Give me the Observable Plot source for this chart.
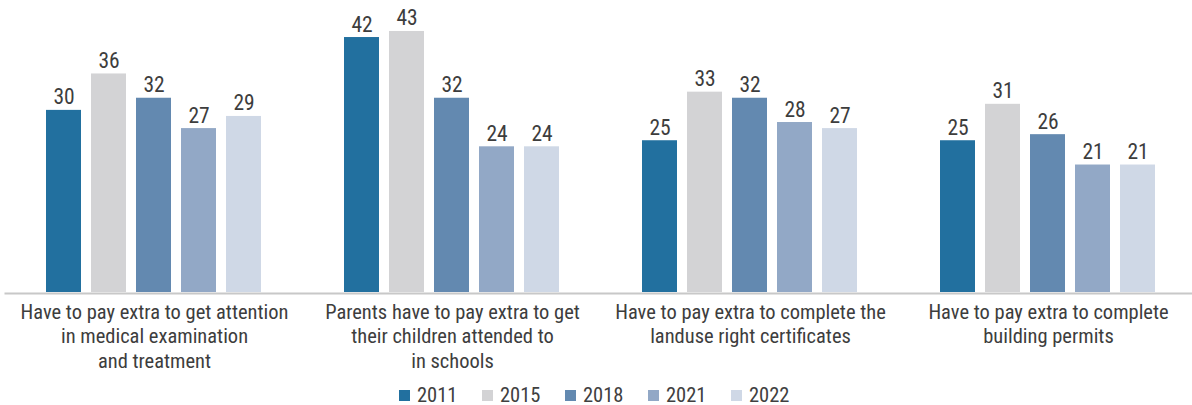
<!DOCTYPE html>
<html>
<head>
<meta charset="utf-8">
<script src="https://cdn.jsdelivr.net/npm/d3@7"></script>
<script src="https://cdn.jsdelivr.net/npm/@observablehq/plot@0.6"></script>
<style>
  html, body { margin: 0; padding: 0; background: #fff; }
  body { width: 1192px; height: 405px; overflow: hidden; color: #404040; font-weight: 400; }
  #chart svg { display: block; }
  #legend { position: relative; height: 35px; }
  .item { position: absolute; top: 14px; display: flex; align-items: center; font-size: 20px; line-height: 22px; color: #404040; }
  .sw { width: 11px; height: 11px; margin-right: 7px; }
</style>
</head>
<body>
<div id="chart"></div>
<div id="legend"></div>
<script>
const categories = ["c1", "c2", "c3", "c4"];
const categoryLabels = [
  "Have to pay extra to get attention\nin medical examination\nand treatment",
  "Parents have to pay extra to get\ntheir children attended to\nin schools",
  "Have to pay extra to complete the\nlanduse right certificates",
  "Have to pay extra to complete\nbuilding permits"
];
const years = ["2011", "2015", "2018", "2021", "2022"];
const v2011 = [30, 42, 25, 25];
const v2015 = [36, 43, 33, 31];
const v2018 = [32, 32, 32, 26];
const v2021 = [27, 24, 28, 21];
const v2022 = [29, 24, 27, 21];
const colors = ["#22709f", "#d3d3d5", "#6389b0", "#92a8c6", "#cfd8e6"];

// pick an installed condensed (regular weight) font that best matches the reference text width
function measure(family, stretch) {
  const s = document.createElement("span");
  s.style.cssText = "position:absolute;visibility:hidden;white-space:nowrap;font-size:20px;font-weight:400;";
  s.style.fontFamily = family;
  s.style.fontStretch = stretch;
  s.textContent = "Have to pay extra to get attention";
  document.body.appendChild(s);
  const w = s.getBoundingClientRect().width;
  s.remove();
  return w;
}
const candidates = [
  ["'Liberation Sans Narrow'", "normal"],
  ["'Roboto Condensed'", "normal"],
  ["'Open Sans'", "75%"],
  ["'Noto Sans'", "75%"],
  ["'Noto Sans'", "62.5%"],
  ["'Noto Sans Condensed'", "normal"],
  ["'Noto Sans SemiCondensed'", "normal"],
  ["'DejaVu Sans Condensed'", "normal"]
];
let best = {family: "'DejaVu Sans Condensed'", stretch: "normal", w: measure("'DejaVu Sans Condensed'", "normal")};
let bestErr = Infinity;
for (const [f, st] of candidates) {
  const w1 = measure(f + ", monospace", st);
  const w2 = measure(f + ", serif", st);
  if (Math.abs(w1 - w2) > 0.5) continue; // not installed
  const err = Math.abs(w1 - 268);
  if (err < bestErr) { bestErr = err; best = {family: f, stretch: st, w: w1}; }
}
const font = best.family + ", 'DejaVu Sans Condensed', sans-serif";
const stretch = best.stretch;
const labelSize = Math.max(17, Math.min(21, 20 * 268 / best.w));
document.body.style.fontFamily = font;
document.body.style.fontStretch = stretch;

const series = [v2011, v2015, v2018, v2021, v2022];
const data = [];
categories.forEach((c, i) => {
  years.forEach((y, j) => data.push({category: c, year: y, value: series[j][i]}));
});
const labelRows = categories.map((c, i) => ({category: c, label: categoryLabels[i]}));

const chart = Plot.plot({
  width: 1192,
  height: 370,
  marginTop: 0,
  marginBottom: 78,
  marginLeft: 0,
  marginRight: 0,
  style: {fontFamily: font, fontStretch: stretch, fontWeight: 400, background: "#fff", overflow: "visible"},
  fx: {domain: categories, range: [5, 1197], padding: 0, axis: null},
  x: {domain: years, paddingInner: 0.217, paddingOuter: 0.85, axis: null},
  y: {domain: [0, 48.1], axis: null},
  color: {domain: years, range: colors},
  marks: [
    Plot.barY(data, {fx: "category", x: "year", y: "value", fill: "year"}),
    Plot.frame({facet: "super", anchor: "bottom", stroke: "#c8c8c8", strokeWidth: 2, dy: 1}),
    Plot.text(data, {fx: "category", x: "year", y: "value", text: d => String(d.value), lineAnchor: "bottom", dy: -6, fontSize: labelSize + 1, fill: "#3d3d3d"}),
    Plot.text(labelRows, {fx: "category", text: "label", frameAnchor: "bottom", lineAnchor: "top", dy: 9, fontSize: labelSize, lineHeight: 24.4 / labelSize, fill: "#3d3d3d"})
  ]
});
document.getElementById("chart").appendChild(chart);

const legend = document.getElementById("legend");
const lx = [399, 482, 565, 648, 731];
years.forEach((y, i) => {
  const it = document.createElement("div");
  it.className = "item";
  it.style.left = lx[i] + "px";
  it.style.fontSize = labelSize + "px";
  const sw = document.createElement("span");
  sw.className = "sw";
  sw.style.background = colors[i];
  it.appendChild(sw);
  const t = document.createElement("span");
  t.textContent = y;
  it.appendChild(t);
  legend.appendChild(it);
});
</script>
</body>
</html>
